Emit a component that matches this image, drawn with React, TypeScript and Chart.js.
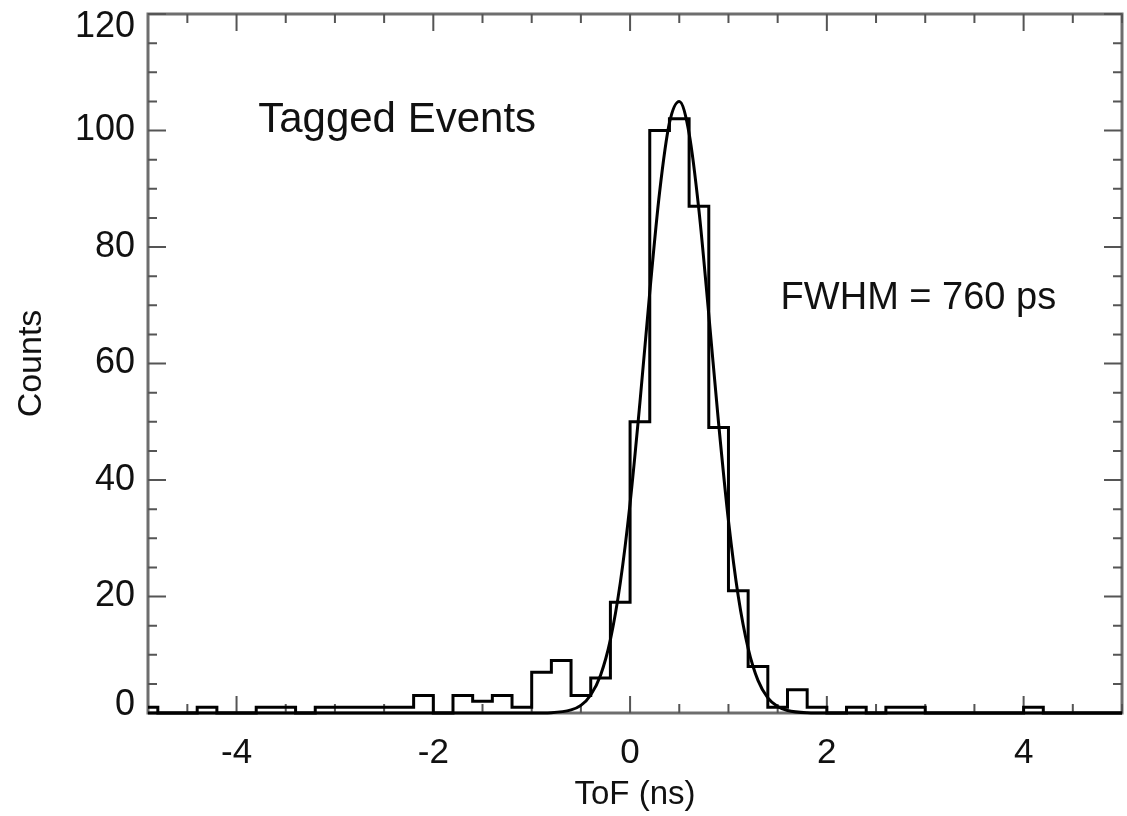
import React, { useEffect, useRef } from 'react';
import { Chart, registerables } from 'chart.js';

Chart.register(...registerables);

// Histogram: bins of 0.2 ns starting at -5.0 ns
const BIN_START = -5.0;
const BIN_WIDTH = 0.2;
const counts = [
  1, 0, 0, 1, 0, 0, 1, 1, 0, 1,
  1, 1, 1, 1, 3, 0, 3, 2, 3, 1,
  7, 9, 3, 6, 19, 50, 100, 102, 87, 49,
  21, 8, 1, 4, 1, 0, 1, 0, 1, 1,
  0, 0, 0, 0, 0, 1, 0, 0, 0, 0,
];

// Gaussian fit curve
const fitX = [-4.9, -1.0, -0.8, -0.6, -0.5, -0.4, -0.3, -0.2, -0.1, 0.0, 0.1, 0.2, 0.3, 0.4, 0.5, 0.6, 0.7, 0.8, 0.9, 1.0, 1.1, 1.2, 1.3, 1.4, 1.5, 1.6, 1.8, 2.0, 5.0];
const fitY = [0, 0, 0.06, 0.53, 1.3, 3.1, 6.5, 12.6, 22.3, 36.0, 53.3, 72.2, 89.4, 101.3, 105.0, 99.5, 86.3, 68.4, 49.7, 33.0, 20.0, 11.1, 5.6, 2.6, 1.1, 0.43, 0.05, 0, 0];

// Axes
const X_MIN = -4.9;
const X_MAX = 5.0;
const Y_MIN = 0;
const Y_MAX = 120;
const xTickLabels = [-4, -2, 0, 2, 4];
const yTickLabels = [0, 20, 40, 60, 80, 100, 120];
const X_MINOR_STEP = 0.5;
const Y_MINOR_STEP = 5;

const xTitle = 'ToF (ns)';
const yTitle = 'Counts';

const annotations = [
  { text: 'Tagged Events', x: -3.78, y: 101.8, size: 42 },
  { text: 'FWHM = 760 ps', x: 1.53, y: 71.2, size: 38 },
];

const FONT = '"Liberation Sans", Arial, Helvetica, sans-serif';

const idlAxesPlugin = {
  id: 'idlAxes',
  beforeDatasetsDraw(chart: any) {
    const { ctx, chartArea: a, scales } = chart;
    const xs = scales.x;
    const ys = scales.y;
    ctx.save();
    ctx.strokeStyle = '#6e6e6e';
    ctx.lineWidth = 3;
    ctx.strokeRect(a.left, a.top, a.right - a.left, a.bottom - a.top);

    ctx.strokeStyle = '#555555';
    ctx.lineWidth = 2;
    ctx.beginPath();
    const xTick = (v: number, len: number) => {
      const p = xs.getPixelForValue(v);
      ctx.moveTo(p, a.bottom);
      ctx.lineTo(p, a.bottom - len);
      ctx.moveTo(p, a.top);
      ctx.lineTo(p, a.top + len);
    };
    const yTick = (v: number, len: number) => {
      const p = ys.getPixelForValue(v);
      ctx.moveTo(a.left, p);
      ctx.lineTo(a.left + len, p);
      ctx.moveTo(a.right, p);
      ctx.lineTo(a.right - len, p);
    };
    const xStart = Math.ceil(X_MIN / X_MINOR_STEP);
    const xEnd = Math.floor(X_MAX / X_MINOR_STEP);
    for (let i = xStart; i <= xEnd; i++) {
      const v = i * X_MINOR_STEP;
      xTick(v, xTickLabels.some((t) => Math.abs(t - v) < 1e-9) ? 17 : 9);
    }
    const yStart = Math.ceil(Y_MIN / Y_MINOR_STEP);
    const yEnd = Math.floor(Y_MAX / Y_MINOR_STEP);
    for (let i = yStart; i <= yEnd; i++) {
      const v = i * Y_MINOR_STEP;
      yTick(v, yTickLabels.some((t) => Math.abs(t - v) < 1e-9) ? 18 : 9);
    }
    ctx.stroke();

    // y tick labels, kept inside the plot height like the original
    ctx.fillStyle = '#111111';
    ctx.font = `36px ${FONT}`;
    ctx.textAlign = 'right';
    ctx.textBaseline = 'middle';
    yTickLabels.forEach((v) => {
      const p = ys.getPixelForValue(v);
      const yc = Math.min(Math.max(p, a.top + 13), a.bottom - 8);
      ctx.fillText(String(v), a.left - 13, yc);
    });
    ctx.restore();
  },
  afterDatasetsDraw(chart: any) {
    const { ctx, scales } = chart;
    ctx.save();
    ctx.fillStyle = '#111111';
    ctx.textAlign = 'left';
    ctx.textBaseline = 'middle';
    annotations.forEach((an) => {
      ctx.font = `${an.size}px ${FONT}`;
      ctx.fillText(an.text, scales.x.getPixelForValue(an.x), scales.y.getPixelForValue(an.y));
    });
    ctx.restore();
  },
};

export default function App() {
  const canvasRef = useRef<HTMLCanvasElement | null>(null);

  useEffect(() => {
    if (!canvasRef.current) return;
    const histData = counts.map((c, i) => ({ x: BIN_START + i * BIN_WIDTH, y: c }));
    histData.push({ x: BIN_START + counts.length * BIN_WIDTH, y: counts[counts.length - 1] });
    const fitData = fitX.map((x, i) => ({ x, y: fitY[i] }));

    const chart = new Chart(canvasRef.current, {
      type: 'line',
      data: {
        datasets: [
          {
            label: 'Histogram',
            data: histData,
            stepped: true,
            borderColor: '#000000',
            borderWidth: 3,
            pointRadius: 0,
            fill: false,
            clip: { left: 0, right: 0, top: 4, bottom: 4 } as any,
          },
          {
            label: 'Gaussian fit',
            data: fitData,
            cubicInterpolationMode: 'monotone',
            borderColor: '#000000',
            borderWidth: 3,
            pointRadius: 0,
            fill: false,
            clip: { left: 0, right: 0, top: 4, bottom: 4 } as any,
          },
        ],
      },
      options: {
        animation: false,
        responsive: false,
        devicePixelRatio: 1,
        layout: { padding: { top: 14, right: 5, left: 0, bottom: 0 } },
        plugins: {
          legend: { display: false },
          tooltip: { enabled: false },
          title: { display: false },
        },
        scales: {
          x: {
            type: 'linear',
            min: X_MIN,
            max: X_MAX,
            grid: { display: false, drawTicks: false },
            border: { display: false },
            afterBuildTicks: (s: any) => {
              s.ticks = xTickLabels.map((v) => ({ value: v }));
            },
            afterFit: (s: any) => {
              s.height = 103;
              s.paddingLeft = 0;
              s.paddingRight = 0;
            },
            ticks: {
              padding: 19,
              color: '#111111',
              font: { family: FONT, size: 35 },
              maxRotation: 0,
              callback: (v: any) => String(v),
            },
            title: {
              display: true,
              text: xTitle,
              color: '#111111',
              font: { family: FONT, size: 33 },
              padding: { top: 0, bottom: 1 },
            },
          },
          y: {
            type: 'linear',
            min: Y_MIN,
            max: Y_MAX,
            grid: { display: false, drawTicks: false },
            border: { display: false },
            afterBuildTicks: (s: any) => {
              s.ticks = yTickLabels.map((v) => ({ value: v }));
            },
            afterFit: (s: any) => {
              s.width = 148;
              s.paddingTop = 0;
              s.paddingBottom = 0;
            },
            ticks: {
              display: false,
            },
            title: {
              display: true,
              text: yTitle,
              color: '#111111',
              font: { family: FONT, size: 34 },
              padding: { top: 11, bottom: 0 },
            },
          },
        },
      },
      plugins: [idlAxesPlugin],
    });
    return () => chart.destroy();
  }, []);

  return (
    <div style={{ position: 'fixed', left: 0, top: 0, width: 1127, height: 816, background: '#ffffff' }}>
      <canvas ref={canvasRef} width={1127} height={816} style={{ width: 1127, height: 816, display: 'block' }} />
    </div>
  );
}
